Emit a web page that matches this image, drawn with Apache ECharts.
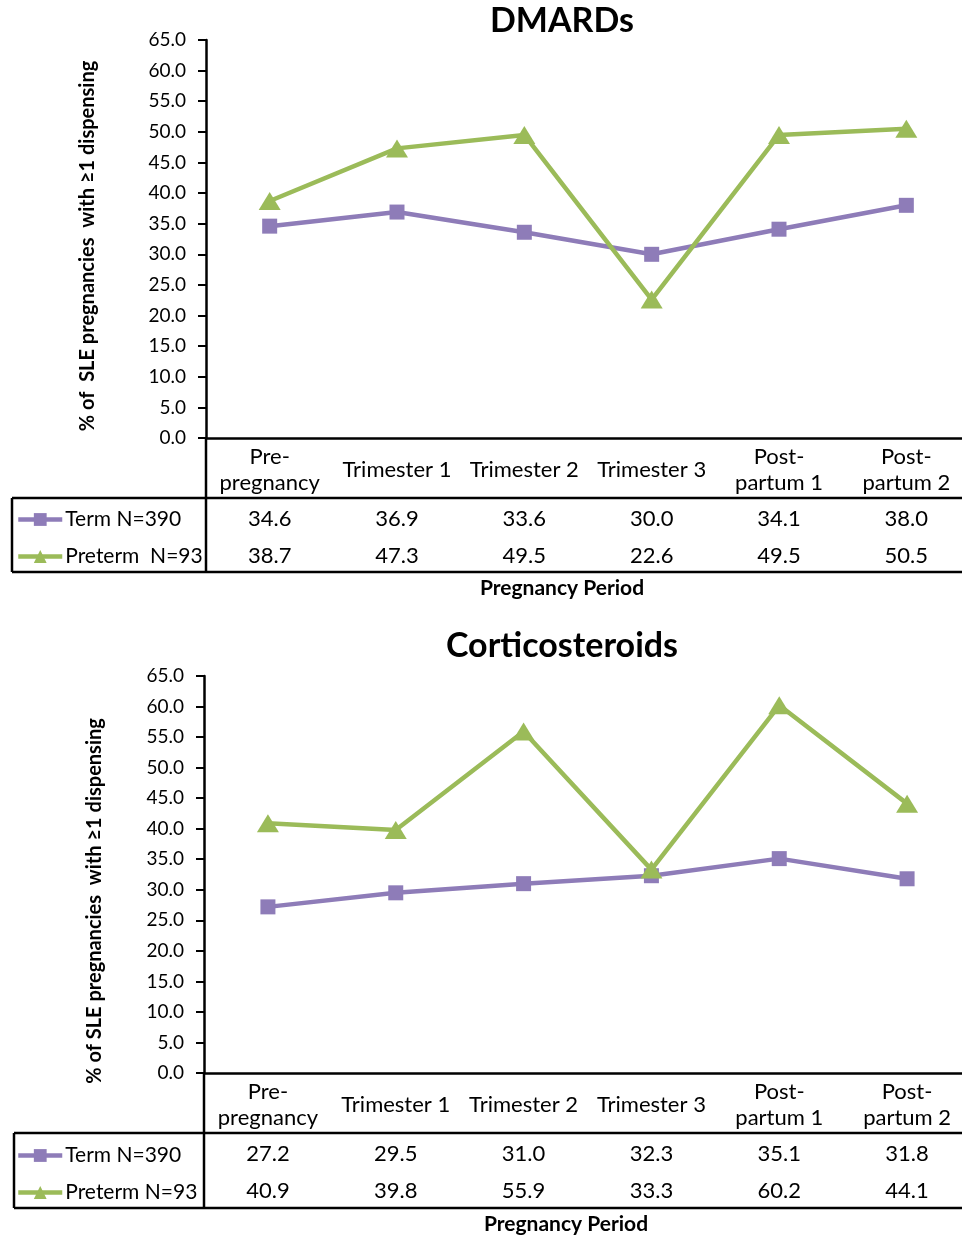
<!DOCTYPE html>
<html><head><meta charset="utf-8">
<script src="https://cdn.jsdelivr.net/npm/echarts@6/dist/echarts.min.js"></script>
<style>html,body{margin:0;padding:0;background:#fff}#c1,#c2{width:962px;height:619px}</style>
</head><body><div id="c1"></div><div id="c2"></div>
<script>
const categories = ['Pre-\npregnancy','Trimester 1','Trimester 2','Trimester 3','Post-\npartum 1','Post-\npartum 2'];
const dmardsTerm = [34.6, 36.9, 33.6, 30.0, 34.1, 38.0];
const dmardsPreterm = [38.7, 47.3, 49.5, 22.6, 49.5, 50.5];
const corticoTerm = [27.2, 29.5, 31.0, 32.3, 35.1, 31.8];
const corticoPreterm = [40.9, 39.8, 55.9, 33.3, 60.2, 44.1];
const yTicks = {min: 0, max: 65, interval: 5};

const FONT = 'Lato';
const PURPLE = '#8E7CB8';
const GREEN = '#9BBB59';

function build(cfg) {
  const ax = cfg.axisX, ay = cfg.axisY, top = cfg.top;
  const valueAxis = (vals, off) => ({
    type: 'category', data: categories, gridIndex: 0, position: 'bottom', offset: off,
    axisLine: {show: false}, axisTick: {show: false},
    axisLabel: {margin: 0, verticalAlign: 'middle', fontFamily: FONT, fontSize: 22, color: '#000',
      formatter: (v, i) => vals[i].toFixed(1)}
  });
  const tl = cfg.tableLeft, tt = cfg.tableTop, tb = cfg.tableBottom;
  const lineStyle = {stroke: '#000', lineWidth: 2.5};
  return {
    animation: false,
    title: [
      {text: cfg.title, left: cfg.titleX, top: cfg.titleY, textAlign: 'center', padding: 0,
        textStyle: {fontFamily: FONT, fontSize: 34, fontWeight: 'bold', color: '#000'}},
      {text: 'Pregnancy Period', left: cfg.xNameX, top: cfg.xNameY, textAlign: 'center', padding: 0,
        textStyle: {fontFamily: FONT, fontSize: 21, fontWeight: 'bold', color: '#000'}}
    ],
    legend: {
      orient: 'vertical', left: 16, top: cfg.legendTop, itemWidth: 44, itemHeight: 16, itemGap: 16,
      padding: 0, lineStyle: {width: 4.5},
      textStyle: {fontFamily: FONT, fontSize: 21, color: '#000', padding: [0, 0, 0, -2]},
      data: [cfg.termName, cfg.pretermName]
    },
    grid: {left: ax, top: top, height: ay - top, width: cfg.width, containLabel: false, outerBoundsMode: 'none'},
    xAxis: [
      {type: 'category', data: categories, gridIndex: 0, position: 'bottom', boundaryGap: true,
        axisLine: {show: true, lineStyle: {color: '#000', width: 2.5}}, axisTick: {show: false},
        axisLabel: {margin: 32, verticalAlign: 'middle', lineHeight: 26, fontFamily: FONT, fontSize: 22, color: '#000', interval: 0}},
      valueAxis(cfg.term, 81),
      valueAxis(cfg.preterm, 118)
    ],
    yAxis: {
      type: 'value', min: yTicks.min, max: yTicks.max, interval: yTicks.interval,
      axisLine: {show: true, lineStyle: {color: '#000', width: 2.5}},
      axisTick: {show: true, inside: false, length: 8, lineStyle: {color: '#000', width: 2}},
      splitLine: {show: false},
      axisLabel: {margin: 20, fontFamily: FONT, fontSize: 19, color: '#000', formatter: v => v.toFixed(1)}
    },
    graphic: [
      {type: 'line', shape: {x1: tl, y1: tt, x2: 962, y2: tt}, style: lineStyle},
      {type: 'line', shape: {x1: tl, y1: tb, x2: 962, y2: tb}, style: lineStyle},
      {type: 'line', shape: {x1: tl, y1: tt, x2: tl, y2: tb}, style: lineStyle},
      {type: 'line', shape: {x1: ax, y1: ay, x2: ax, y2: tb}, style: lineStyle},
      {type: 'text', x: cfg.yNameX, y: cfg.yNameY, rotation: Math.PI / 2,
        style: {text: cfg.yName, align: 'center', verticalAlign: 'middle', fill: '#000',
          font: 'bold 20px ' + FONT}}
    ],
    series: [
      {name: cfg.termName, type: 'line', data: cfg.term, xAxisIndex: 0, yAxisIndex: 0,
        symbol: 'rect', symbolSize: 15, color: PURPLE, lineStyle: {width: 4.5, color: PURPLE},
        itemStyle: {color: PURPLE}},
      {name: cfg.pretermName, type: 'line', data: cfg.preterm, xAxisIndex: 0, yAxisIndex: 0,
        symbol: 'triangle', symbolSize: [22, 18], color: GREEN, lineStyle: {width: 4.5, color: GREEN},
        itemStyle: {color: GREEN}}
    ]
  };
}

const c1 = echarts.init(document.getElementById('c1'), null, {renderer: 'canvas'});
c1.setOption(build({
  title: 'DMARDs', titleX: 562, titleY: 4, xNameX: 562, xNameY: 578,
  axisX: 206, axisY: 438, top: 40, width: 764,
  tableLeft: 12, tableTop: 498, tableBottom: 572, legendTop: 509,
  term: dmardsTerm, preterm: dmardsPreterm,
  termName: 'Term N=390', pretermName: 'Preterm  N=93',
  yName: '% of  SLE pregnancies  with \u22651 dispensing', yNameX: 88, yNameY: 246
}));

const c2 = echarts.init(document.getElementById('c2'), null, {renderer: 'canvas'});
c2.setOption(build({
  title: 'Corticosteroids', titleX: 562, titleY: 10, xNameX: 566, xNameY: 595,
  axisX: 204, axisY: 454, top: 57, width: 767,
  tableLeft: 14, tableTop: 514, tableBottom: 589, legendTop: 526,
  term: corticoTerm, preterm: corticoPreterm,
  termName: 'Term N=390', pretermName: 'Preterm N=93',
  yName: '% of SLE pregnancies  with \u22651 dispensing', yNameX: 95, yNameY: 282
}));
</script>
</body></html>
